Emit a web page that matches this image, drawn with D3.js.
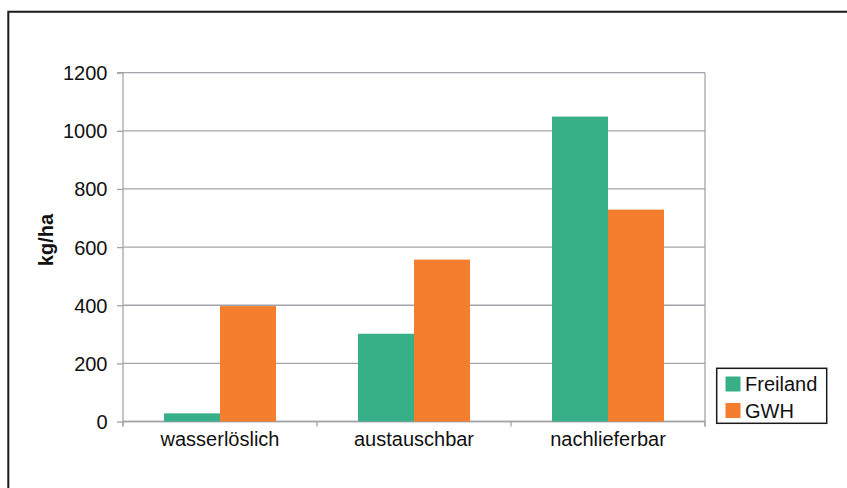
<!DOCTYPE html>
<html><head><meta charset="utf-8">
<script src="https://cdn.jsdelivr.net/npm/d3@7"></script>
<style>body{margin:0;background:#fff}svg{display:block;font-family:"Liberation Sans",Arial,sans-serif}</style>
</head><body>
<svg id="c" width="847" height="488"></svg>
<script>
const categories = ["wasserlöslich", "austauschbar", "nachlieferbar"];
const seriesNames = ["Freiland", "GWH"];
const freiland = [28, 302, 1049];
const gwh = [397, 557, 729];
const yTicks = [0, 200, 400, 600, 800, 1000, 1200];
const colors = ["#37b087", "#f47e2e"];
const yLabel = "kg/ha";

const svg = d3.select("#c");
const L = 123, R = 705, T = 72.7, B = 421.5;

// outer frame
svg.append("path").attr("d", `M848,11.7 H8.3 V489`).attr("fill","none").attr("stroke","#1a1a1a").attr("stroke-width",2);

const x = d3.scaleBand().domain(categories).range([L, R]).padding(0);
const xi = d3.scaleBand().domain(seriesNames).range([0, x.bandwidth()]).paddingInner(0).paddingOuter(0.732);
const y = d3.scaleLinear().domain([0, 1200]).range([B, T]);

const grid = "#a3a3ab";
// gridlines
svg.append("g").selectAll("line").data(yTicks).join("line")
  .attr("x1", L).attr("x2", R).attr("y1", d => y(d)).attr("y2", d => y(d))
  .attr("stroke", grid).attr("stroke-width", 1.3);
// right border
svg.append("line").attr("x1", R).attr("x2", R).attr("y1", T).attr("y2", B + 5).attr("stroke", grid).attr("stroke-width", 1.3);

// y axis
const yAxis = d3.axisLeft(y).tickValues(yTicks).tickSize(6).tickPadding(10).tickFormat(d3.format("d"));
const gy = svg.append("g").attr("transform", `translate(${L},0)`).call(yAxis);
gy.select(".domain").attr("stroke", grid).attr("stroke-width", 1.3).attr("d", `M-6,${T}H0V${B + 5}`);
gy.selectAll(".tick line").attr("stroke", grid).attr("stroke-width", 1.3);
gy.selectAll(".tick text").attr("font-size", 20).attr("fill", "#111").attr("font-family", "Liberation Sans, Arial, sans-serif").attr("dy", "0.35em").attr("x", -15.5);

// x axis
const gx = svg.append("g").attr("transform", `translate(0,${B})`);
gx.append("line").attr("x1", L).attr("x2", R).attr("y1", 0).attr("y2", 0).attr("stroke", grid).attr("stroke-width", 1.3);
const bounds = categories.map(c => x(c)).concat([R]);
gx.selectAll("line.t").data(bounds).join("line").attr("class","t")
  .attr("x1", d => d).attr("x2", d => d).attr("y1", 0).attr("y2", 5).attr("stroke", grid).attr("stroke-width", 1.3);
gx.selectAll("text").data(categories).join("text")
  .attr("x", d => x(d) + x.bandwidth() / 2).attr("y", 24).attr("text-anchor", "middle")
  .attr("font-size", 20).attr("fill", "#111").text(d => d);

// bars
const values = [freiland, gwh];
seriesNames.forEach((s, si) => {
  svg.append("g").selectAll("rect").data(categories).join("rect")
    .attr("x", c => x(c) + xi(s)).attr("width", xi.bandwidth())
    .attr("y", (c, i) => y(values[si][i])).attr("height", (c, i) => B - y(values[si][i]))
    .attr("fill", colors[si]);
});

// y label
svg.append("text").attr("transform", `translate(53,240) rotate(-90)`).attr("text-anchor", "middle")
  .attr("font-size", 20).attr("font-weight", "bold").attr("fill", "#111").text(yLabel);

// legend
const lg = svg.append("g");
lg.append("rect").attr("x", 716.7).attr("y", 368.3).attr("width", 110).attr("height", 55)
  .attr("fill", "#fff").attr("stroke", "#1a1a1a").attr("stroke-width", 1.5);
seriesNames.forEach((s, i) => {
  lg.append("rect").attr("x", 725.5).attr("y", 376.5 + i * 26.5).attr("width", 15).attr("height", 15).attr("fill", colors[i]);
  lg.append("text").attr("x", 745).attr("y", 391 + i * 26.5).attr("font-size", 20).attr("fill", "#111").text(s);
});
</script>
</body></html>
